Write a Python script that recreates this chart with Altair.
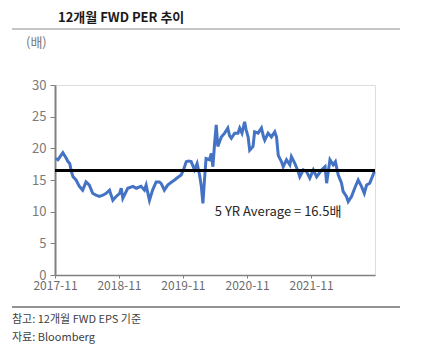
import altair as alt
import pandas as pd

dates = [
    "2017-11-05", "2017-11-18", "2017-12-03", "2017-12-16", "2018-01-05", "2018-01-14",
    "2018-01-24", "2018-02-03", "2018-02-12", "2018-03-01", "2018-03-20", "2018-04-08",
    "2018-04-27", "2018-05-16", "2018-06-04", "2018-06-23", "2018-07-12", "2018-08-01",
    "2018-08-20", "2018-09-08", "2018-09-27", "2018-10-16", "2018-11-05", "2018-11-14",
    "2018-11-23", "2018-12-21", "2019-01-20", "2019-02-08", "2019-03-07", "2019-03-26",
    "2019-04-05", "2019-04-24", "2019-05-12", "2019-06-01", "2019-06-20", "2019-07-01",
    "2019-07-18", "2019-08-06", "2019-08-25", "2019-09-14", "2019-10-02", "2019-10-22",
    "2019-11-04", "2019-11-20", "2019-12-03", "2019-12-18", "2020-01-06", "2020-01-21",
    "2020-02-04", "2020-02-14", "2020-02-23", "2020-03-03", "2020-03-12", "2020-04-01",
    "2020-04-11", "2020-04-20", "2020-04-29", "2020-05-09", "2020-05-18", "2020-06-07",
    "2020-06-26", "2020-07-14", "2020-07-24", "2020-08-03", "2020-08-22", "2020-09-10",
    "2020-09-20", "2020-10-03", "2020-10-18", "2020-10-26", "2020-11-07", "2020-11-16",
    "2020-12-05", "2020-12-14", "2021-01-03", "2021-01-22", "2021-02-03", "2021-02-10",
    "2021-03-01", "2021-03-20", "2021-04-08", "2021-04-18", "2021-04-28", "2021-05-16",
    "2021-05-26", "2021-06-14", "2021-07-03", "2021-07-12", "2021-08-01", "2021-08-20",
    "2021-08-29", "2021-09-18", "2021-10-07", "2021-10-25", "2021-11-14", "2021-12-03",
    "2022-01-01", "2022-01-20", "2022-01-29", "2022-02-17", "2022-03-07", "2022-03-20",
    "2022-04-05", "2022-04-24", "2022-05-03", "2022-05-22", "2022-06-01", "2022-06-20",
    "2022-07-08", "2022-07-28", "2022-08-16", "2022-09-01", "2022-09-14", "2022-10-02",
    "2022-10-28",
]
per = [
    18.4, 18.2, 18.8, 19.3, 18.4, 17.9,
    17.6, 16.3, 15.5, 15.0, 14.0, 13.4,
    14.7, 14.2, 12.9, 12.6, 12.4, 12.6,
    12.9, 13.4, 11.8, 12.4, 12.9, 13.7,
    12.1, 13.7, 14.0, 13.7, 14.0, 13.4,
    14.2, 11.8, 13.4, 14.7, 14.7, 14.4,
    13.4, 14.2, 14.6, 15.0, 15.4, 15.8,
    16.6, 17.9, 18.0, 17.9, 16.6, 17.6,
    15.8, 14.0, 11.3, 15.0, 18.4, 18.2,
    19.2, 17.1, 20.5, 23.7, 20.3, 21.8,
    22.4, 23.2, 22.0, 21.6, 22.4, 22.4,
    23.2, 22.4, 24.2, 23.0, 21.8, 19.7,
    20.3, 22.6, 22.4, 23.2, 21.8, 21.3,
    22.4, 21.8, 22.6, 21.8, 18.9, 17.9,
    17.1, 18.2, 17.4, 18.7, 17.6, 16.3,
    15.5, 16.6, 16.3, 15.3, 16.6, 15.5,
    16.6, 17.1, 14.5, 18.2, 17.4, 17.9,
    15.8, 14.5, 13.2, 12.4, 11.6, 12.4,
    13.7, 15.0, 14.0, 12.9, 14.2, 14.5,
    16.3,
]
average = 16.5
title_text = "12개월 FWD PER 추이"
unit_text = "(배)"
avg_label = "5 YR Average = 16.5배"
notes = ["참고: 12개월 FWD EPS 기준", "자료: Bloomberg"]
tick_years = [2017, 2018, 2019, 2020, 2021]

df = pd.DataFrame({"date": dates, "per": per})
FONT = "Noto Sans CJK KR"

x_scale = alt.Scale(
    type="utc",
    domain=[alt.DateTime(year=2017, month=11, date=1, utc=True),
            alt.DateTime(year=2022, month=11, date=1, utc=True)],
)
y_scale = alt.Scale(domain=[0, 30], nice=False)

x_axis = alt.Axis(
    values=[alt.DateTime(year=y, month=11, date=1, utc=True) for y in tick_years],
    labelExpr="utcFormat(datum.value, '%Y-%m')",
    labelOverlap=False, labelFlush=False, labelBound=False,
    grid=False, domainColor="#808080", domainWidth=1.5, tickColor="#808080",
    tickSize=3, labelPadding=2, labelColor="#6b6b6b", labelFontSize=12, labelFont=FONT,
)
y_axis = alt.Axis(
    values=[0, 5, 10, 15, 20, 25, 30], grid=False, labelOverlap=False, labelFlush=False,
    domainColor="#808080", domainWidth=2, tickColor="#808080",
    tickSize=5, labelPadding=4, labelColor="#7a7a7a", labelFontSize=13, labelFont=FONT,
)

line = alt.Chart(df).mark_line(color="#4472C4", strokeWidth=3).encode(
    x=alt.X("date:T", scale=x_scale, title=None, axis=x_axis),
    y=alt.Y("per:Q", scale=y_scale, title=None, axis=y_axis),
)

avg_df = pd.DataFrame({"avg": [average]})
avg_rule = alt.Chart(avg_df).mark_rule(color="black", strokeWidth=2.8).encode(
    y=alt.Y("avg:Q", scale=y_scale, title=None, axis=y_axis)
)

lab_df = pd.DataFrame({"date": ["2020-05-01"], "per": [10.0], "t": [avg_label]})
avg_text = alt.Chart(lab_df).mark_text(
    align="left", baseline="middle", fontSize=13, color="#262626", font=FONT
).encode(
    x=alt.X("date:T", scale=x_scale, title=None, axis=x_axis),
    y=alt.Y("per:Q", scale=y_scale, title=None, axis=y_axis),
    text="t:N",
)

title = alt.Chart(pd.DataFrame({"t": [title_text]})).mark_text(
    align="left", baseline="alphabetic", fontSize=13, fontWeight="bold", color="#1a1a1a", font=FONT
).encode(x=alt.value(3), y=alt.value(-63), text="t:N")

unit = alt.Chart(pd.DataFrame({"t": [unit_text]})).mark_text(
    align="left", baseline="middle", fontSize=13, color="#7a7a7a", font=FONT
).encode(x=alt.value(-29), y=alt.value(-42), text="t:N")

top_rule = alt.Chart(pd.DataFrame({"a": [0]})).mark_rule(color="#8c8c8c", strokeWidth=1).encode(
    x=alt.value(-43), x2=alt.value(345), y=alt.value(-56)
)
bottom_rule = alt.Chart(pd.DataFrame({"a": [0]})).mark_rule(color="#262626", strokeWidth=1.2).encode(
    x=alt.value(-43), x2=alt.value(345), y=alt.value(222)
)

note1 = alt.Chart(pd.DataFrame({"t": [notes[0]]})).mark_text(
    align="left", baseline="middle", fontSize=11, color="#404040", font=FONT
).encode(x=alt.value(-43), y=alt.value(235), text="t:N")
note2 = alt.Chart(pd.DataFrame({"t": [notes[1]]})).mark_text(
    align="left", baseline="middle", fontSize=11, color="#404040", font=FONT
).encode(x=alt.value(-43), y=alt.value(253), text="t:N")

chart = alt.layer(
    line, avg_rule, avg_text, title, unit, top_rule, bottom_rule, note1, note2
).properties(
    width=320, height=190,
    autosize=alt.AutoSizeParams(type="none"),
    padding={"left": 47, "top": 77, "right": 41, "bottom": 80},
).configure_view(stroke=None).configure(font=FONT)

chart.save("out.html", embed_options={"renderer": "svg", "actions": False})
